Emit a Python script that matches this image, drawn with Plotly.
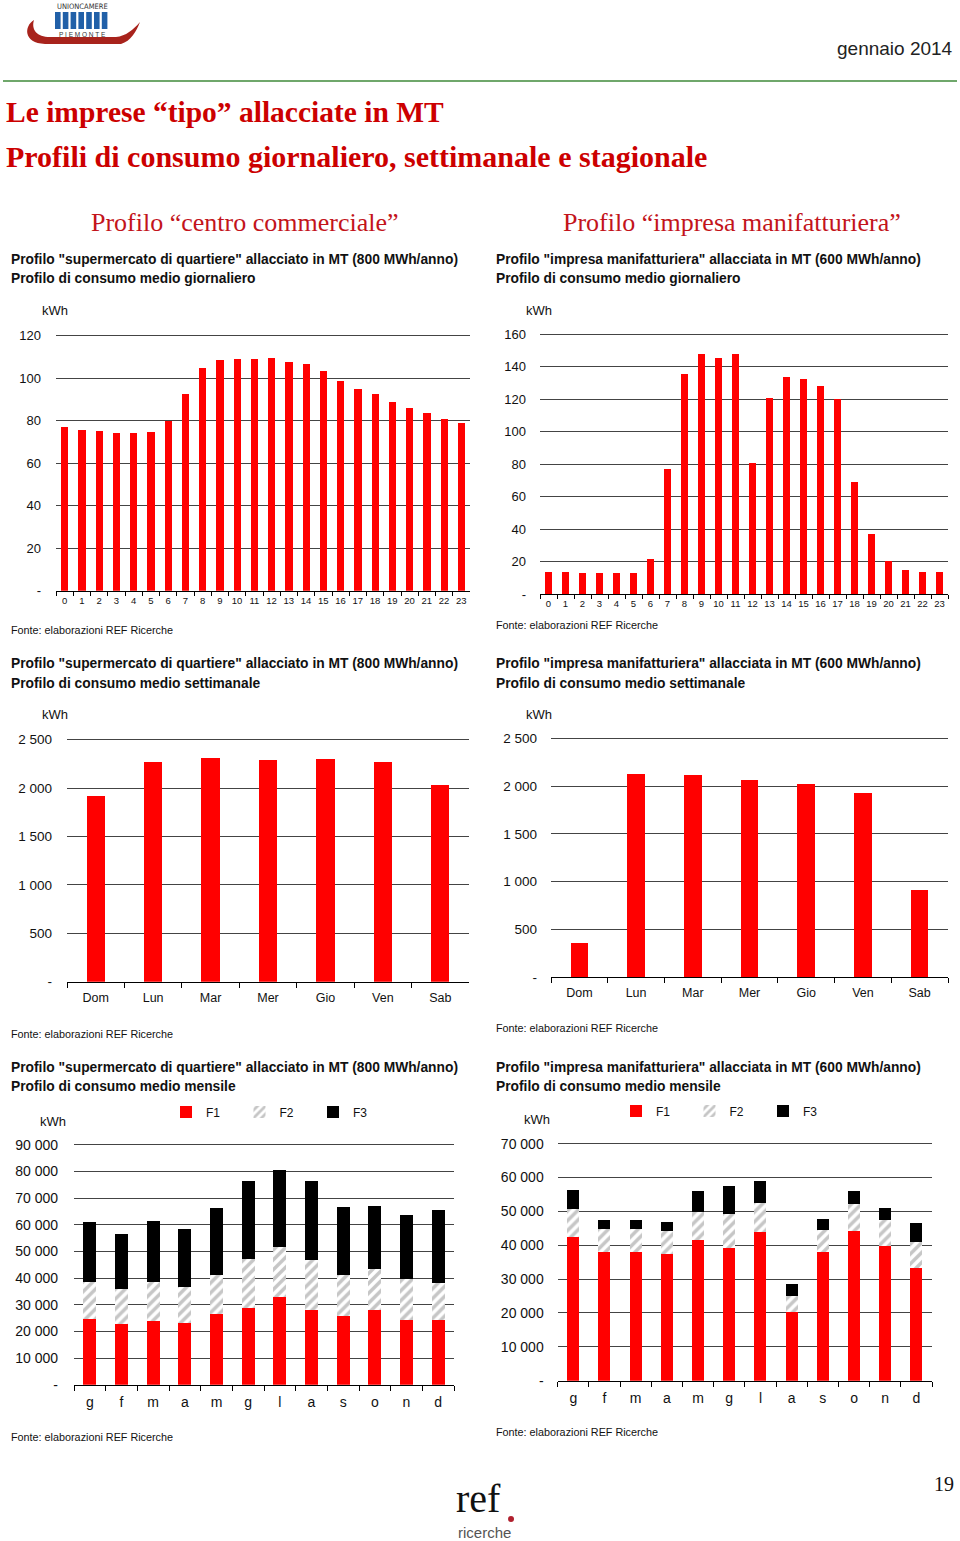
import plotly.graph_objects as go

W, H = 960, 1541


def X(px):
    return px / W


def Y(py):
    return 1 - py / H


# ---------------- data ----------------
hours = [str(h) for h in range(24)]
comm_daily = [77.2, 75.8, 75.0, 74.2, 74.2, 74.7, 80.0, 92.4, 104.6, 108.5, 109.2, 109.2,
              109.6, 107.8, 106.5, 103.2, 98.7, 95.0, 92.4, 88.8, 86.0, 83.6, 80.9, 78.9]
manu_daily = [13.3, 13.3, 12.7, 12.7, 12.7, 12.7, 21.6, 77.2, 135.5, 147.7, 145.6, 147.7,
              80.5, 120.8, 133.5, 132.3, 128.2, 119.9, 68.8, 37.2, 20.5, 14.8, 13.8, 13.8]

days = ["Dom", "Lun", "Mar", "Mer", "Gio", "Ven", "Sab"]
comm_weekly = [1915, 2269, 2314, 2290, 2297, 2269, 2035]
manu_weekly = [359, 2130, 2120, 2068, 2019, 1932, 914]

month_keys = ["gen", "feb", "mar", "apr", "mag", "giu", "lug", "ago", "set", "ott", "nov", "dic"]
month_labels = ["g", "f", "m", "a", "m", "g", "l", "a", "s", "o", "n", "d"]
comm_f1 = [24500, 22900, 23750, 23000, 26600, 28600, 32900, 28100, 25900, 27900, 24250, 24100]
comm_f2 = [14000, 13100, 14750, 13600, 14500, 18400, 18700, 18650, 15100, 15600, 15500, 14150]
comm_f3 = [22500, 20500, 22900, 21900, 25150, 29400, 29000, 29650, 25750, 23600, 23850, 27150]
manu_f1 = [42400, 37900, 37900, 37500, 41700, 39200, 44000, 20200, 38100, 44300, 39700, 33300]
manu_f2 = [8400, 6800, 6800, 6600, 8000, 10000, 8500, 4900, 6500, 7800, 7700, 7600]
manu_f3 = [5400, 2900, 2900, 2750, 6200, 8400, 6600, 3350, 3200, 3900, 3700, 5750]

ticks_daily_comm = [0, 20, 40, 60, 80, 100, 120]
labels_daily_comm = ["-", "20", "40", "60", "80", "100", "120"]
ticks_daily_manu = [0, 20, 40, 60, 80, 100, 120, 140, 160]
labels_daily_manu = ["-", "20", "40", "60", "80", "100", "120", "140", "160"]
ticks_weekly = [0, 500, 1000, 1500, 2000, 2500]
labels_weekly = ["-", "500", "1 000", "1 500", "2 000", "2 500"]
ticks_month_comm = [0, 10000, 20000, 30000, 40000, 50000, 60000, 70000, 80000, 90000]
labels_month_comm = ["-", "10 000", "20 000", "30 000", "40 000", "50 000", "60 000",
                     "70 000", "80 000", "90 000"]
ticks_month_manu = [0, 10000, 20000, 30000, 40000, 50000, 60000, 70000]
labels_month_manu = ["-", "10 000", "20 000", "30 000", "40 000", "50 000", "60 000", "70 000"]

RED = "#ff0000"
SANS = "Liberation Sans, Arial, sans-serif"
SERIF = "Liberation Serif, Times New Roman, serif"
GRID = "#444444"

fig = go.Figure()

# ---------------- traces ----------------
fig.add_trace(go.Bar(x=hours, y=comm_daily, xaxis="x", yaxis="y", width=0.42,
                     marker=dict(color=RED, line=dict(width=0)), showlegend=False))
fig.add_trace(go.Bar(x=hours, y=manu_daily, xaxis="x2", yaxis="y2", width=0.39,
                     marker=dict(color=RED, line=dict(width=0)), showlegend=False))
fig.add_trace(go.Bar(x=days, y=comm_weekly, xaxis="x3", yaxis="y3", width=0.32,
                     marker=dict(color=RED, line=dict(width=0)), showlegend=False))
fig.add_trace(go.Bar(x=days, y=manu_weekly, xaxis="x4", yaxis="y4", width=0.31,
                     marker=dict(color=RED, line=dict(width=0)), showlegend=False))

pattern = dict(shape="/", fgcolor="#8e8e8e", bgcolor="white", size=7, solidity=0.5)
for (f1, f2, f3, xa, ya, lg, w) in [
    (comm_f1, comm_f2, comm_f3, "x5", "y5", "legend", 0.41),
    (manu_f1, manu_f2, manu_f3, "x6", "y6", "legend2", 0.385),
]:
    fig.add_trace(go.Bar(x=month_keys, y=f1, name="F1", xaxis=xa, yaxis=ya, width=w,
                         marker=dict(color=RED, line=dict(width=0)), legend=lg))
    fig.add_trace(go.Bar(x=month_keys, y=f2, name="F2", xaxis=xa, yaxis=ya, width=w,
                         marker=dict(color="white", pattern=pattern, line=dict(width=0)),
                         legend=lg))
    fig.add_trace(go.Bar(x=month_keys, y=f3, name="F3", xaxis=xa, yaxis=ya, width=w,
                         marker=dict(color="black", line=dict(width=0)), legend=lg))


# ---------------- axes ----------------
def xaxis(left, right, anchor, size, standoff=0, ticklen=4, **kw):
    d = dict(domain=[X(left), X(right)], anchor=anchor, type="category",
             showline=True, linecolor="black", linewidth=1, ticks="outside",
             ticklen=ticklen, tickcolor="black", tickwidth=1, tickson="boundaries",
             showgrid=False, zeroline=False, fixedrange=True, tickangle=0,
             automargin=False,
             tickfont=dict(family=SANS, size=size, color="#111"),
             ticklabelstandoff=standoff)
    d.update(kw)
    return d


def yaxis(p0, ptop, top_value, tickvals, ticktext, anchor, size, standoff):
    f = 1.01
    top_px = p0 - (p0 - ptop) * f
    return dict(domain=[Y(p0), Y(top_px)], anchor=anchor, range=[0, top_value * f],
                tickmode="array", tickvals=tickvals, ticktext=ticktext,
                showgrid=True, gridcolor=GRID, gridwidth=1, zeroline=False,
                showline=False, ticks="", fixedrange=True, automargin=False,
                tickfont=dict(family=SANS, size=size, color="#111"),
                ticklabelstandoff=standoff)


fig.update_layout(
    xaxis=xaxis(56, 470, "y", 9.5, standoff=1),
    yaxis=yaxis(590.7, 335.7, 120, ticks_daily_comm, labels_daily_comm, "x", 13, 14),
    xaxis2=xaxis(540, 948, "y2", 9.5, standoff=1),
    yaxis2=yaxis(594, 334.3, 160, ticks_daily_manu, labels_daily_manu, "x2", 13, 13),
    xaxis3=xaxis(67, 469, "y3", 12.5, standoff=4, ticklen=5),
    yaxis3=yaxis(981.7, 739.7, 2500, ticks_weekly, labels_weekly, "x3", 13.5, 14),
    xaxis4=xaxis(551, 948, "y4", 12.5, standoff=4, ticklen=5),
    yaxis4=yaxis(977.3, 738.3, 2500, ticks_weekly, labels_weekly, "x4", 13.5, 13),
    xaxis5=xaxis(74, 454, "y5", 14, standoff=4, ticklen=5, tickmode="array",
                 tickvals=month_keys, ticktext=month_labels),
    yaxis5=yaxis(1384.7, 1144.7, 90000, ticks_month_comm, labels_month_comm, "x5", 14, 15),
    xaxis6=xaxis(557.7, 932, "y6", 14, standoff=4, ticklen=5, tickmode="array",
                 tickvals=month_keys, ticktext=month_labels),
    yaxis6=yaxis(1380.7, 1143.7, 70000, ticks_month_manu, labels_month_manu, "x6", 14, 13),
)

legend_common = dict(orientation="h", xanchor="left", yanchor="middle",
                     font=dict(family=SANS, size=12, color="#111"),
                     bgcolor="rgba(0,0,0,0)", borderwidth=0, traceorder="normal",
                     entrywidth=28.5, entrywidthmode="pixels", itemclick=False,
                     itemdoubleclick=False)
fig.update_layout(
    legend=dict(x=X(166), y=Y(1112), **legend_common),
    legend2=dict(x=X(616), y=Y(1111), **legend_common),
)

# ---------------- texts ----------------
ann = []


def text(s, x, y, size, color="#111", family=SANS, xanchor="left", yanchor="middle"):
    ann.append(dict(text=s, x=X(x), y=Y(y), xref="paper", yref="paper",
                    xanchor=xanchor, yanchor=yanchor, showarrow=False,
                    font=dict(size=size, color=color, family=family)))


text("gennaio 2014", 955, 49, 19, color="#222", xanchor="right")
text("<b>Le imprese “tipo” allacciate in MT</b>", 4, 112, 29.5, color="#cc0000", family=SERIF)
text("<b>Profili di consumo giornaliero, settimanale e stagionale</b>", 4, 157, 30,
     color="#cc0000", family=SERIF)
text("Profilo “centro commerciale”", 245, 222, 26, color="#c3141b", family=SERIF,
     xanchor="center")
text("Profilo “impresa manifatturiera”", 732, 222, 26, color="#c3141b", family=SERIF,
     xanchor="center")

t_comm = "<b>Profilo \"supermercato di quartiere\" allacciato in MT (800 MWh/anno)</b>"
t_manu = "<b>Profilo \"impresa manifatturiera\" allacciata in MT (600 MWh/anno)</b>"
rows = [
    (259, 279, "<b>Profilo di consumo medio giornaliero</b>"),
    (663, 683, "<b>Profilo di consumo medio settimanale</b>"),
    (1067, 1086, "<b>Profilo di consumo medio mensile</b>"),
]
for y1, y2, sub in rows:
    text(t_comm, 9, y1, 13.8)
    text(sub, 9, y2, 13.8)
    text(t_manu, 494, y1, 13.8)
    text(sub, 494, y2, 13.8)

for x, y in [(40, 311), (524, 310), (40, 715), (524, 714), (38, 1121), (522, 1119)]:
    text("kWh", x, y, 13)

for x, y in [(9, 630), (494, 625), (9, 1034), (494, 1028), (9, 1437), (494, 1432)]:
    text("Fonte: elaborazioni REF Ricerche", x, y, 10.8)

text("19", 944, 1484, 20, color="#111", family=SERIF, xanchor="center")
text("ref", 454, 1498.5, 40, color="#111", family=SERIF)
text("ricerche", 484.5, 1532, 15, color="#555", xanchor="center")
text("UNIONCAMERE", 82, 6, 7.5, color="#333", family="DejaVu Sans Condensed, " + SANS,
     xanchor="center")
text("P I E M O N T E", 82, 35, 6.5, color="#333", family=SANS, xanchor="center")

fig.update_layout(annotations=ann)

# ---------------- shapes (page decoration) ----------------
shapes = []
shapes.append(dict(type="line", xref="paper", yref="paper", x0=X(3), x1=X(957),
                   y0=Y(81), y1=Y(81), line=dict(color="#3f8a3a", width=1.5)))
for i in range(7):
    x0 = 55 + i * 7.8
    shapes.append(dict(type="rect", xref="paper", yref="paper", x0=X(x0), x1=X(x0 + 5.6),
                       y0=Y(29), y1=Y(12), fillcolor="#2160a8", line=dict(width=0)))


def path(cmds):
    out = []
    for c, pts in cmds:
        out.append(c + " ".join(f"{X(px):.5f},{Y(py):.5f}" for px, py in pts))
    return " ".join(out)


swoosh = path([
    ("M", [(34, 20)]),
    ("C", [(24, 26), (23, 43), (45, 44)]),
    ("L", [(121, 44)]),
    ("C", [(131, 41), (136, 32), (140, 22)]),
    ("C", [(133, 30), (126, 36), (116, 37)]),
    ("L", [(50, 37)]),
    ("C", [(37, 37), (31, 30), (34, 20)]),
    ("Z", []),
])
shapes.append(dict(type="path", xref="paper", yref="paper", path=swoosh,
                   fillcolor="#a8231c", line=dict(width=0)))
shapes.append(dict(type="circle", xref="paper", yref="paper", x0=X(508), x1=X(514),
                   y0=Y(1522), y1=Y(1516), fillcolor="#b0202e", line=dict(width=0)))
fig.update_layout(shapes=shapes)

fig.update_layout(width=W, height=H,
                  margin=dict(l=0, r=0, t=0, b=0, pad=0, autoexpand=False),
                  paper_bgcolor="white", plot_bgcolor="white", barmode="stack",
                  font=dict(family=SANS), hovermode=False)

fig.write_html("out.html", config={"displayModeBar": False},
               post_script="document.body.style.margin='0px';document.body.style.padding='0px';")
